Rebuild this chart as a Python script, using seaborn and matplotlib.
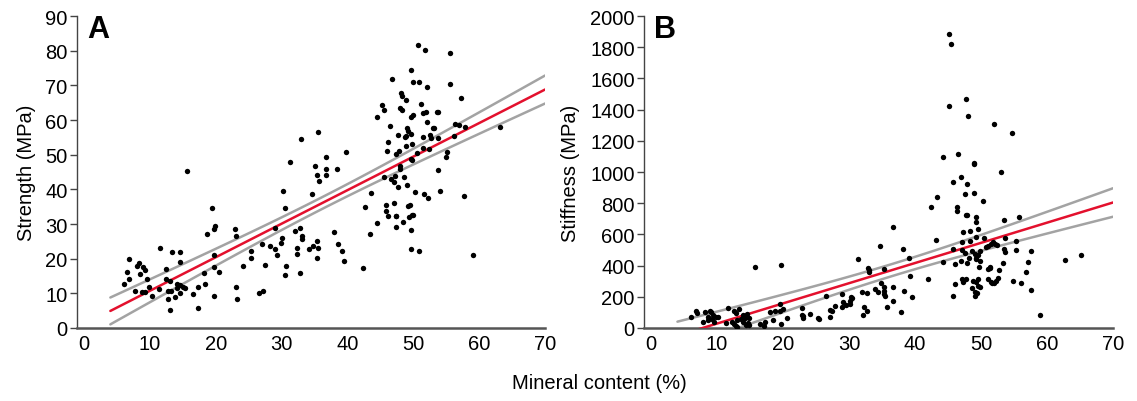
import numpy as np
import pandas as pd
import matplotlib
matplotlib.use('Agg')
import matplotlib.pyplot as plt
import seaborn as sns

sns.set_style('white')
plt.rcParams['font.family'] = ['Liberation Sans', 'DejaVu Sans']
plt.rcParams['text.color'] = 'black'
plt.rcParams['axes.labelcolor'] = 'black'
plt.rcParams['xtick.color'] = 'black'
plt.rcParams['ytick.color'] = 'black'

# panel A: mineral content (%) vs strength (MPa)
a_mineral = [
    15.6, 19.5, 19.9, 19.7, 18.7, 11.6, 13.3, 14.6, 14.6, 6.9, 8.4, 8.1, 8.9, 9.3, 6.6, 8.5,
    6.9, 9.5, 6.0, 12.4, 12.5, 13.0, 19.8, 19.8, 20.5, 18.2, 18.3, 17.3, 16.5, 19.8, 17.3, 9.8,
    7.8, 8.8, 9.3, 10.3, 11.4, 12.7, 13.2, 14.1, 14.6, 15.1, 15.4, 14.1, 14.5, 13.8, 12.8, 13.0,
    22.9, 23.1, 23.0, 23.2, 24.1, 25.3, 25.4, 26.5, 27.1, 27.0, 27.5, 28.2, 29.0, 29.0, 29.3, 29.9,
    30.1, 30.2, 30.5, 30.6, 30.5, 31.3, 32.1, 32.8, 33.1, 33.1, 32.3, 32.3, 32.8, 34.1, 33.0, 34.6,
    35.0, 35.3, 35.5, 35.7, 34.8, 35.5, 35.3, 39.7, 36.7, 36.8, 38.4, 36.7, 38.0, 35.4, 38.5, 39.2,
    39.5,
    42.3, 43.5, 42.6, 43.4, 44.5, 44.5, 45.2, 45.5, 46.7, 46.4, 46.2, 46.0, 45.5, 46.6, 47.1, 47.2,
    47.7, 47.4, 47.8, 47.7, 48.0, 48.0, 48.6, 49.1, 50.2, 45.9, 45.9, 46.2, 47.1, 47.3, 47.4, 47.3,
    48.5, 49.2, 49.5, 49.3, 49.8, 50.0, 49.6, 49.6, 50.9, 51.6, 52.2, 54.1, 53.7, 57.7, 59.1, 63.1,
    50.7, 51.8, 55.6, 49.7, 50.0, 50.9, 52.1, 55.5, 57.3, 48.1, 48.3, 48.9, 48.0, 48.3, 51.2, 49.9,
    49.7, 51.4, 51.9, 53.8, 53.6, 52.1, 49.0, 49.2, 49.7, 48.7, 48.9, 53.0, 53.2, 52.5, 51.4, 52.7,
    53.8, 49.8, 48.9, 51.4, 52.4, 50.5, 49.6, 49.8, 55.1, 55.0, 56.1, 56.3, 57.0, 57.8,
]
a_strength = [
    45.3, 34.5, 29.4, 28.5, 27.1, 23.1, 22.0, 22.0, 19.1, 19.8, 18.7, 18.0, 17.6, 16.6, 16.2, 15.6,
    14.1, 14.1, 12.6, 16.9, 14.0, 13.5, 21.0, 17.7, 16.2, 15.9, 12.6, 11.8, 9.7, 9.2, 5.9, 11.8,
    10.8, 10.5, 10.5, 9.2, 11.2, 10.8, 10.8, 12.8, 12.5, 11.9, 11.6, 11.4, 10.0, 9.0, 8.5, 5.1,
    28.6, 26.5, 11.7, 8.5, 17.9, 22.3, 20.2, 10.0, 10.7, 24.3, 18.2, 23.7, 22.8, 28.8, 21.0, 24.6,
    26.0, 39.4, 34.5, 17.9, 15.4, 47.9, 27.9, 28.8, 26.5, 25.6, 23.0, 21.4, 16.0, 22.8, 54.5, 38.7,
    46.6, 44.0, 56.6, 42.5, 23.7, 23.0, 20.3, 50.8, 49.4, 46.0, 45.9, 44.0, 27.7, 25.1, 24.3, 22.2,
    19.4,
    17.4, 38.9, 34.8, 27.1, 30.3, 60.8, 64.3, 62.8, 71.7, 58.4, 53.7, 51.1, 43.5, 43.0, 42.0, 43.9,
    40.7, 50.2, 51.1, 55.8, 46.8, 46.0, 43.7, 41.2, 39.1, 35.6, 33.7, 32.4, 36.1, 32.4, 32.2, 29.1,
    30.5, 35.1, 35.6, 31.9, 32.7, 32.5, 28.2, 22.8, 22.3, 38.7, 37.4, 39.6, 45.6, 38.2, 21.2, 58.1,
    81.7, 80.2, 79.2, 74.5, 71.0, 71.0, 69.6, 70.4, 66.3, 67.8, 66.8, 65.7, 63.4, 62.8, 64.5, 61.4,
    60.8, 62.0, 62.2, 62.4, 62.2, 59.4, 57.6, 56.9, 56.0, 55.2, 55.4, 57.6, 57.6, 55.8, 55.2, 54.8,
    54.8, 53.0, 52.6, 51.9, 51.6, 50.6, 48.7, 48.5, 50.9, 49.4, 55.5, 58.8, 58.6, 58.1,
]

# panel B: mineral content (%) vs stiffness (MPa)
b_mineral = [
    15.7, 19.7, 19.5, 6.1, 6.8, 6.9, 8.2, 9.0, 9.1, 7.8, 8.6, 8.7, 9.3, 9.4, 9.8, 10.2,
    9.6, 11.7, 12.5, 13.3, 12.9, 11.3, 12.2, 12.6, 12.9, 13.0, 14.0, 14.6, 13.6, 14.2, 14.9, 14.0,
    14.7, 14.9, 14.4, 13.0, 16.5, 17.1, 17.3, 18.0, 18.8, 19.6, 20.0, 18.5, 19.7, 20.6,
    22.8, 23.0, 23.1, 22.9, 24.1, 25.3, 25.5, 26.5, 27.1, 27.1, 27.4, 27.9, 28.9, 29.1, 29.0, 29.6,
    30.4, 30.3, 30.2, 30.1, 31.3, 31.9, 32.7, 32.2, 32.7, 32.1, 32.8, 33.0, 33.0, 33.9, 34.4, 34.7,
    36.6, 38.2, 39.1, 35.3, 39.3, 34.8, 36.7, 35.3, 35.3, 35.3, 35.4, 38.3, 36.7, 39.5, 35.7, 37.8,
    45.1, 45.4, 47.7, 45.2, 48.1, 51.9, 54.7, 44.3, 46.5, 48.9, 49.0, 53.1, 45.7, 47.0, 47.8, 43.3,
    47.5, 49.0, 50.3, 42.4, 46.3, 46.4, 47.7, 47.9, 49.2, 49.2, 53.5, 55.8, 49.5, 48.3, 47.2, 43.2,
    47.1, 48.3, 49.3, 50.5, 50.7, 51.1, 51.5, 51.8, 52.1, 52.4, 53.6, 55.3, 45.8, 47.1, 47.6, 49.1,
    49.8, 48.7, 48.2, 49.2, 49.5, 49.3, 49.8, 53.5, 53.6, 55.3, 57.5, 44.3, 46.1, 47.0, 47.8, 49.7,
    51.3, 51.1, 51.4, 52.7, 53.4, 57.1, 56.8, 62.8, 65.2, 42.0, 46.1, 47.1, 47.2, 47.7, 48.8, 49.2,
    49.5, 49.6, 49.8, 48.6, 49.1, 49.4, 49.1, 45.8, 51.1, 51.5, 51.7, 52.0, 52.3, 52.5, 56.1, 54.8,
    57.6, 58.9,
]
b_stiffness = [
    389, 406, 154, 73, 107, 95, 100, 112, 100, 40, 73, 53, 58, 85, 73, 68,
    40, 130, 107, 120, 94, 32, 40, 23, 13, 5, 85, 90, 60, 62, 62, 38,
    34, 20, 19, 53, 24, 13, 40, 105, 111, 108, 120, 51, 26, 66,
    131, 74, 62, 83, 92, 66, 60, 205, 117, 73, 107, 143, 218, 168, 132, 147,
    190, 200, 175, 155, 440, 229, 224, 137, 107, 85, 385, 370, 357, 250, 229, 524,
    645, 508, 447, 378, 331, 290, 263, 265, 235, 218, 207, 235, 171, 197, 137, 100,
    1883, 1821, 1470, 1425, 1361, 1310, 1252, 1094, 1115, 1061, 1050, 1002, 938, 968, 921, 840,
    859, 867, 816, 778, 774, 750, 726, 726, 713, 681, 692, 709, 635, 624, 618, 566,
    549, 560, 581, 575, 519, 528, 536, 549, 538, 532, 577, 556, 504, 500, 479, 474,
    496, 495, 451, 449, 465, 442, 431, 506, 485, 502, 496, 421, 410, 431, 415, 391,
    385, 378, 389, 372, 414, 421, 361, 434, 468, 314, 282, 314, 297, 314, 301, 297,
    314, 269, 263, 254, 231, 226, 207, 207, 314, 297, 290, 290, 303, 318, 290, 303,
    246, 85,
]

fit_start, fit_end = 4, 70


def fit_lines(x, y):
    x = np.asarray(x, float)
    y = np.asarray(y, float)
    n = len(x)
    slope, icpt = np.polyfit(x, y, 1)
    resid = y - (slope * x + icpt)
    s = np.sqrt((resid ** 2).sum() / (n - 2))
    sxx = ((x - x.mean()) ** 2).sum()
    xs = np.linspace(fit_start, fit_end, 100)
    yhat = slope * xs + icpt
    # 95% confidence band of the fitted line
    half = 1.97 * s * np.sqrt(1 / n + (xs - x.mean()) ** 2 / sxx)
    return xs, yhat, yhat - half, yhat + half


fig = plt.figure(figsize=(11.37, 4.02), dpi=100)
ax_a = fig.add_axes([0.0681, 0.1816, 0.4113, 0.776])
ax_b = fig.add_axes([0.5668, 0.1816, 0.4121, 0.776])

panels = [
    (ax_a, a_mineral, a_strength, 'Strength (MPa)', 'A', (0, 90), np.arange(0, 91, 10)),
    (ax_b, b_mineral, b_stiffness, 'Stiffness (MPa)', 'B', (0, 2000), np.arange(0, 2001, 200)),
]

for ax, xv, yv, ylab, tag, ylim, yticks in panels:
    xs, yhat, lo, hi = fit_lines(xv, yv)
    sns.lineplot(x=xs, y=lo, ax=ax, color='#a3a3a3', lw=1.8, zorder=2)
    sns.lineplot(x=xs, y=hi, ax=ax, color='#a3a3a3', lw=1.8, zorder=2)
    sns.lineplot(x=xs, y=yhat, ax=ax, color='#e3102d', lw=1.8, zorder=3)
    sns.scatterplot(x=xv, y=yv, ax=ax, color='black', s=15, linewidth=0, zorder=4)

    ax.set_xlim(-1, 70)
    ax.set_ylim(*ylim)
    ax.set_xticks(np.arange(0, 71, 10))
    ax.set_yticks(yticks)
    ax.tick_params(axis='y', direction='out', length=5, width=1, color='#444444',
                   labelsize=14.5, pad=2, left=True)
    ax.tick_params(axis='x', length=0, labelsize=14.5, pad=4)
    ax.set_ylabel(ylab, fontsize=14.5, labelpad=7)
    ax.set_xlabel('')
    sns.despine(ax=ax)
    ax.spines['left'].set_color('#444444')
    ax.spines['left'].set_linewidth(1)
    ax.spines['bottom'].set_color('#555555')
    ax.spines['bottom'].set_linewidth(1.8)
    ax.text(0.02, 1.005, tag, transform=ax.transAxes, fontsize=22, fontweight='bold',
            va='top', ha='left')

fig.text(0.527, 0.022, 'Mineral content (%)', fontsize=14.5, ha='center', va='bottom')

fig.savefig('out.png', dpi=100)
